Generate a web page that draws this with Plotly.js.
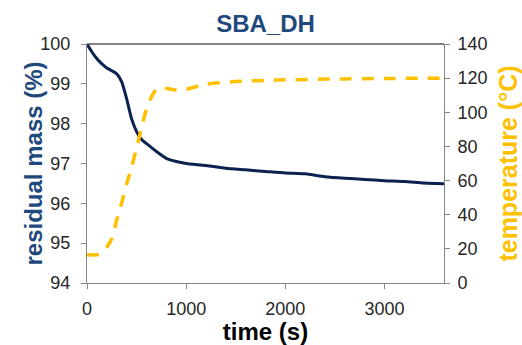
<!DOCTYPE html>
<html>
<head>
<meta charset="utf-8">
<script src="https://cdn.plot.ly/plotly-3.0.1.min.js"></script>
<style>html,body{margin:0;padding:0;background:#fff;}#chart{width:522px;height:345px;}</style>
</head>
<body>
<div id="chart"></div>
<script>
// time (s) and residual mass (%)
const massTime = [0, 50, 100, 150, 200, 250, 300, 350, 400, 450, 500, 550, 600, 700, 800, 900, 1000, 1200, 1400, 1600, 1800, 2000, 2200, 2400, 2600, 2800, 3000, 3200, 3400, 3600];
const massValues = [100, 99.8, 99.63, 99.5, 99.4, 99.33, 99.25, 99.05, 98.62, 98.12, 97.8, 97.6, 97.5, 97.3, 97.13, 97.05, 97.0, 96.95, 96.88, 96.84, 96.8, 96.76, 96.74, 96.67, 96.63, 96.6, 96.57, 96.55, 96.51, 96.49];
// time (s) and temperature (°C)
const tempTime = [0, 100, 150, 200, 250, 300, 350, 400, 450, 500, 550, 600, 650, 700, 750, 800, 900, 1000, 1200, 1500, 1800, 2000, 2500, 3000, 3600];
const tempValues = [16.5, 16.5, 17.5, 21, 26, 37, 47, 58, 68, 79, 91, 102, 109, 113.5, 114.5, 114, 113, 113.5, 116.5, 118, 118.7, 119, 119.5, 119.8, 120];

const xTicks = [0, 1000, 2000, 3000];
const yTicks = [94, 95, 96, 97, 98, 99, 100];
const y2Ticks = [0, 20, 40, 60, 80, 100, 120, 140];

const FONT = 'Arial, "Liberation Sans", sans-serif';
const axisColor = '#868686';
const tickFont = {family: FONT, size: 18, color: '#262626'};

const traces = [
  {
    x: tempTime, y: tempValues, yaxis: 'y2', type: 'scatter', mode: 'lines',
    line: {color: '#FFC000', width: 3.5, dash: '12px,10px', shape: 'spline', smoothing: 0.6},
    hoverinfo: 'skip', showlegend: false
  },
  {
    x: massTime, y: massValues, type: 'scatter', mode: 'lines',
    line: {color: '#0B2150', width: 3, shape: 'spline', smoothing: 0.6},
    hoverinfo: 'skip', showlegend: false
  }
];

const layout = {
  width: 522, height: 345,
  margin: {l: 87, r: 78, t: 44, b: 62},
  paper_bgcolor: '#ffffff', plot_bgcolor: '#ffffff',
  showlegend: false,
  title: {
    text: '<b>SBA_DH</b>',
    font: {family: FONT, size: 24, color: '#1F497D'},
    x: 0.5, xref: 'paper', xanchor: 'center',
    y: 1 - 24 / 345, yref: 'container', yanchor: 'middle'
  },
  xaxis: {
    range: [0, 3600], tickvals: xTicks, ticktext: xTicks.map(String),
    showgrid: false, zeroline: false,
    showline: true, linecolor: axisColor, linewidth: 1,
    ticks: 'outside', ticklen: 5, tickcolor: axisColor,
    ticklabelstandoff: 4,
    tickfont: tickFont,
    title: {text: '<b>time (s)</b>', font: {family: FONT, size: 24, color: '#000000'}, standoff: 0}
  },
  yaxis: {
    range: [94, 100], tickvals: yTicks, ticktext: yTicks.map(String),
    showgrid: false, zeroline: false,
    showline: true, linecolor: axisColor, linewidth: 1,
    ticks: 'outside', ticklen: 5, tickcolor: axisColor,
    ticklabelstandoff: 7,
    tickfont: tickFont
  },
  yaxis2: {
    range: [0, 140], tickvals: y2Ticks, ticktext: y2Ticks.map(String),
    overlaying: 'y', side: 'right',
    showgrid: false, zeroline: false,
    showline: true, linecolor: axisColor, linewidth: 1,
    ticks: 'outside', ticklen: 5, tickcolor: axisColor,
    ticklabelstandoff: 4,
    tickfont: tickFont,
    title: {text: '<b>temperature (°C)</b>', font: {family: FONT, size: 25, color: '#FFC000'}, standoff: 16}
  },
  annotations: [
    {text: '<b>residual mass (%)</b>', xref: 'paper', yref: 'paper', x: 0, y: 0.5,
     xanchor: 'center', yanchor: 'middle', xshift: -54, textangle: -90, showarrow: false,
     font: {family: FONT, size: 24, color: '#1F497D'}}
  ],
  shapes: [
    {type: 'line', xref: 'paper', yref: 'paper', x0: 0, x1: 1, y0: 1, y1: 1,
     line: {color: '#595959', width: 1.5}}
  ]
};

Plotly.newPlot('chart', traces, layout, {staticPlot: true, displayModeBar: false});
</script>
</body>
</html>
